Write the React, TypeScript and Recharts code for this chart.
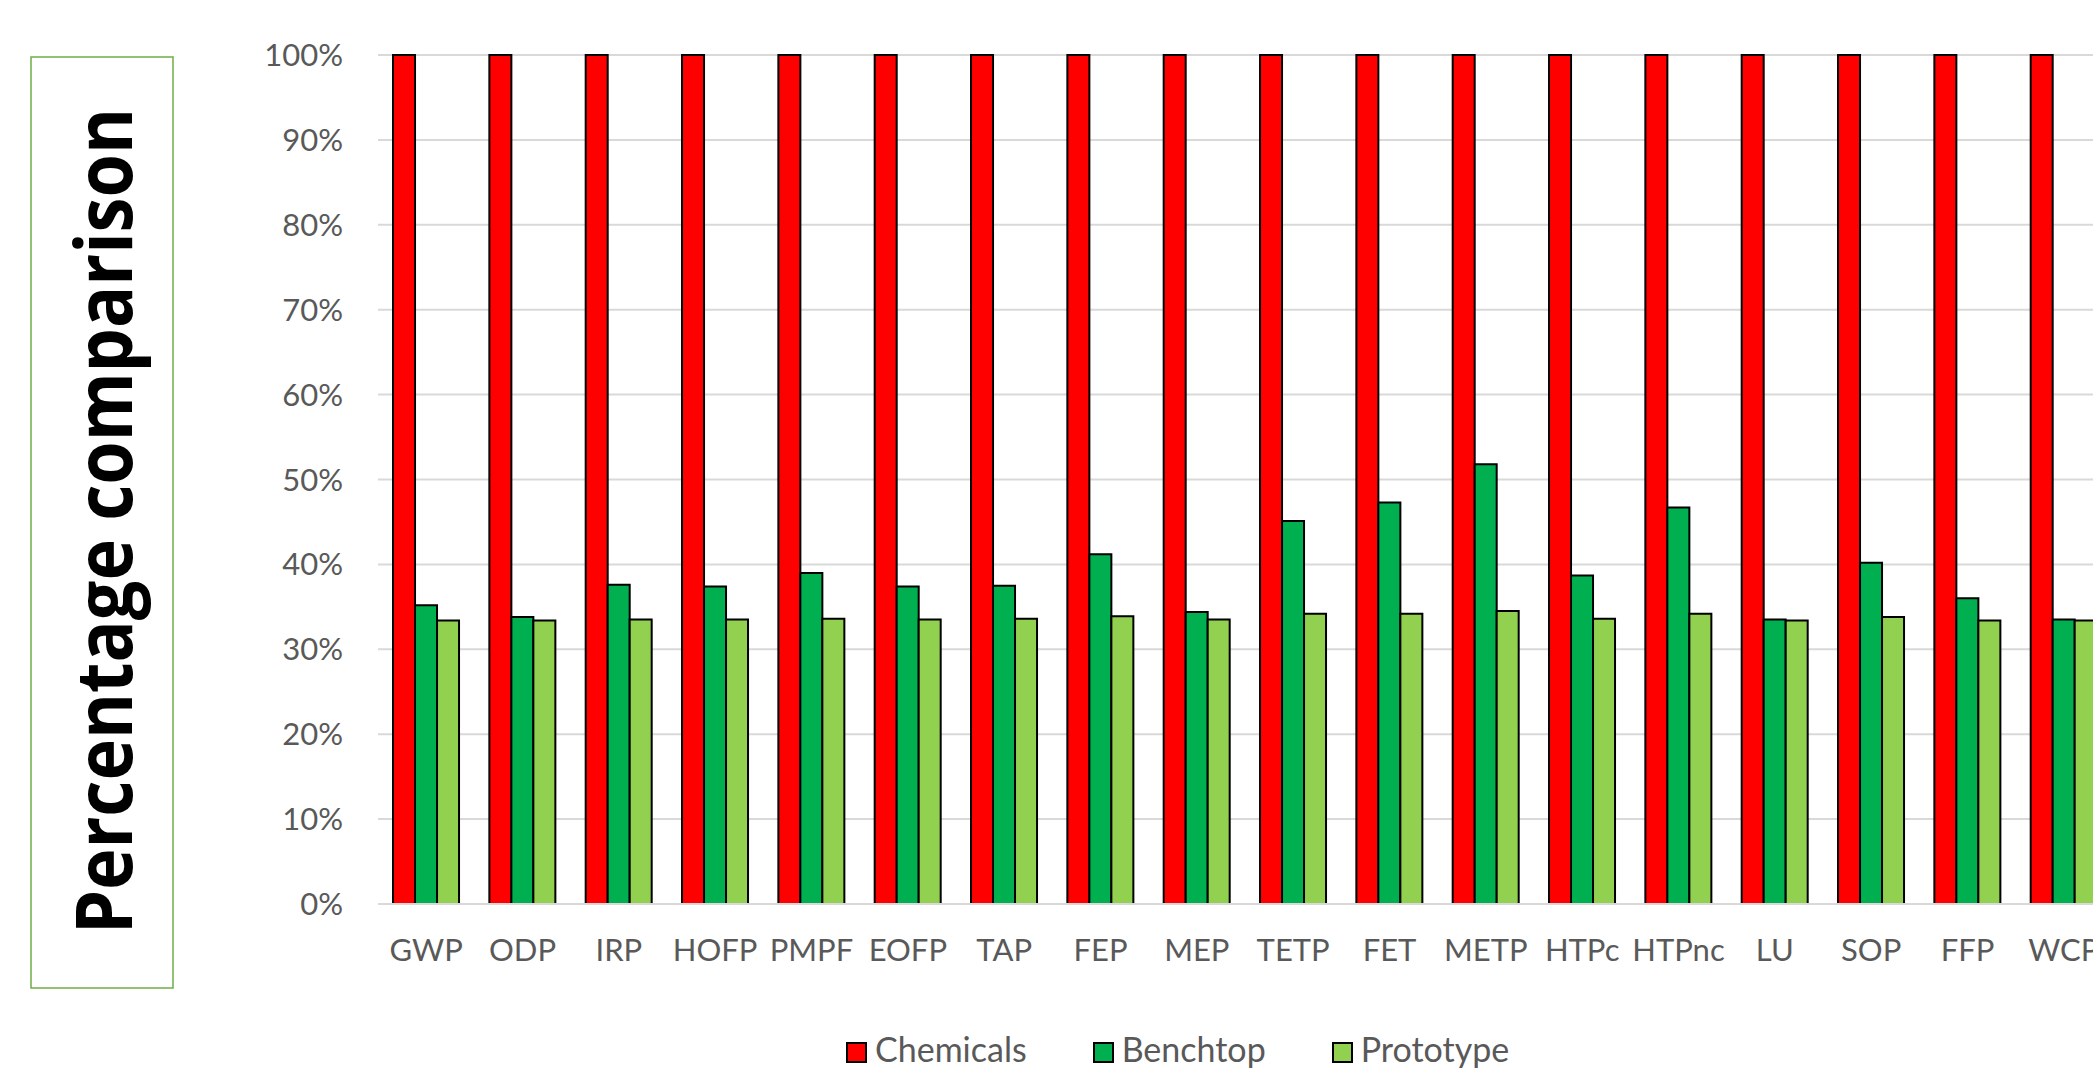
import React from 'react';
import { BarChart, Bar, XAxis, YAxis, CartesianGrid, Legend } from 'recharts';

const categories = ['GWP', 'ODP', 'IRP', 'HOFP', 'PMPF', 'EOFP', 'TAP', 'FEP', 'MEP', 'TETP', 'FET', 'METP', 'HTPc', 'HTPnc', 'LU', 'SOP', 'FFP', 'WCP'];
const chemicals = [100, 100, 100, 100, 100, 100, 100, 100, 100, 100, 100, 100, 100, 100, 100, 100, 100, 100];
const benchtop = [35.2, 33.8, 37.6, 37.4, 39.0, 37.4, 37.5, 41.2, 34.4, 45.1, 47.3, 51.8, 38.7, 46.7, 33.5, 40.2, 36.0, 33.5];
const prototype = [33.4, 33.4, 33.5, 33.5, 33.6, 33.5, 33.6, 33.9, 33.5, 34.2, 34.2, 34.5, 33.6, 34.2, 33.4, 33.8, 33.4, 33.4];
const yTicks = [0, 10, 20, 30, 40, 50, 60, 70, 80, 90, 100];
const seriesNames = ['Chemicals', 'Benchtop', 'Prototype'];
const seriesColors = ['#FF0000', '#00B050', '#92D050'];
const yAxisTitle = 'Percentage comparison';

const data = categories.map((c, i) => ({
  name: c,
  Chemicals: chemicals[i],
  Benchtop: benchtop[i],
  Prototype: prototype[i],
}));

const FONT = 'Lato, "Open Sans", sans-serif';
const TEXT_GRAY = '#595959';

const TitleBox = () => (
  <g>
    <rect x={31} y={57} width={142} height={931} fill="#FFFFFF" stroke="#70AD47" strokeWidth={1.5} />
    <text
      x={132}
      y={521}
      transform="rotate(-90 132 521)"
      textAnchor="middle"
      fontFamily='"Open Sans", sans-serif'
      fontWeight={700}
      fontSize={78}
      fill="#000000"
      textLength={826}
      lengthAdjust="spacingAndGlyphs"
    >
      {yAxisTitle}
    </text>
  </g>
);

const renderLegend = () => (
  <div style={{ display: 'flex', alignItems: 'flex-start', paddingLeft: 846, fontFamily: FONT, fontSize: 34, color: TEXT_GRAY }}>
    {seriesNames.map((n, i) => (
      <div key={n} style={{ display: 'flex', alignItems: 'flex-start', marginRight: 66 }}>
        <div style={{ width: 17, height: 17, marginTop: 10, background: seriesColors[i], border: '2px solid #000', marginRight: 8 }} />
        <span style={{ lineHeight: '34px' }}>{n}</span>
      </div>
    ))}
  </div>
);

export default function App() {
  return (
    <div style={{ position: 'absolute', left: 0, top: 0, width: 2093, height: 1068, overflow: 'hidden', background: '#FFFFFF' }}>
      <BarChart
        width={2200}
        height={1100}
        data={data}
        margin={{ top: 55, right: 88, bottom: 116, left: 0 }}
        barCategoryGap="15.6%"
        barGap={0}
      >
        <CartesianGrid vertical={false} stroke="#D9D9D9" strokeWidth={2} />
        <XAxis
          dataKey="name"
          height={80}
          tickSize={0}
          tickMargin={35}
          axisLine={{ stroke: '#D9D9D9', strokeWidth: 2 }}
          tickLine={false}
          interval={0}
          tick={{ fill: TEXT_GRAY, fontSize: 31, fontFamily: FONT }}
        />
        <YAxis
          width={378}
          domain={[0, 100]}
          ticks={yTicks}
          tickFormatter={(v) => `${v}%`}
          tickSize={0}
          tickMargin={35}
          axisLine={false}
          tickLine={false}
          tick={{ fill: TEXT_GRAY, fontSize: 31, fontFamily: FONT }}
          label={{ content: () => <TitleBox /> }}
        />
        <Legend
          layout="horizontal"
          verticalAlign="middle"
          align="center"
          content={renderLegend}
          wrapperStyle={{ position: 'absolute', left: 0, top: 1032, width: 2200 }}
        />
        {seriesNames.map((n, i) => (
          <Bar key={n} dataKey={n} fill={seriesColors[i]} stroke="#000000" strokeWidth={2} isAnimationActive={false} />
        ))}
      </BarChart>
    </div>
  );
}
